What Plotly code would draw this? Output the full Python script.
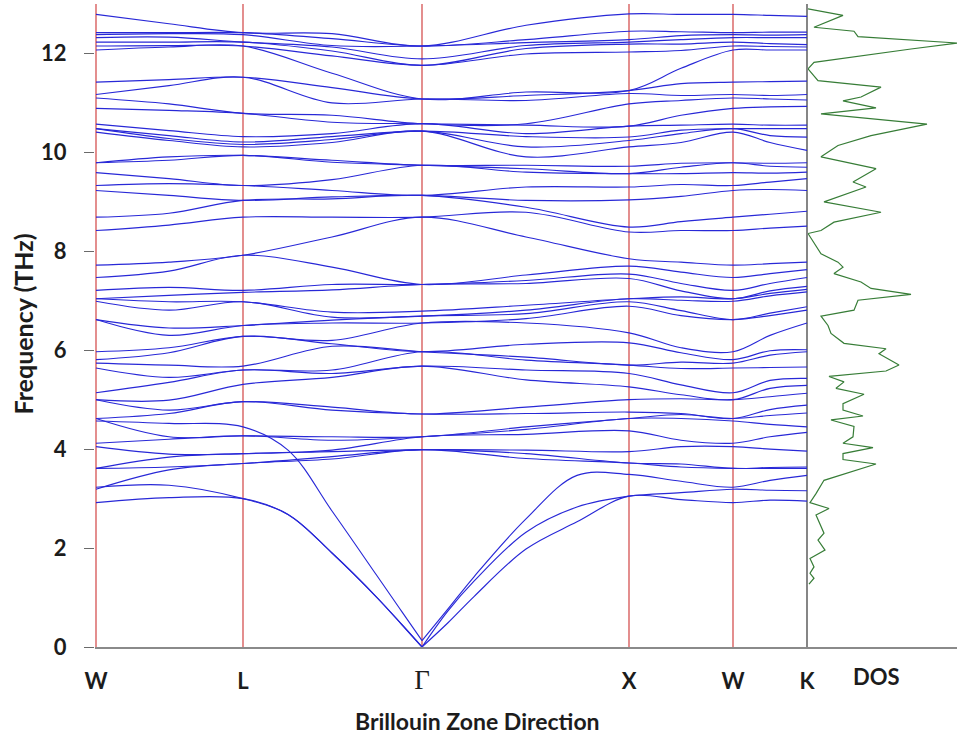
import plotly.graph_objects as go

# ---------------- k-path ----------------
kpos = [0, 147, 326, 533, 637, 711]
klabels = ["W", "L", "<span style='font-family:Liberation Serif;font-weight:normal;font-size:27px'>Γ</span>", "X", "W", "K"]

# sample positions along the path (high-symmetry points + mid points)
opt_x = [0, 73, 147, 236, 326, 430, 533, 585, 637, 674, 711]
ac_x = [0, 73, 147, 192, 236, 281, 306, 326, 352, 378, 430, 481, 533, 585, 637, 674, 711]

# ---------------- acoustic branches (THz) ----------------
ta1 = [2.92, 3.02, 3.00, 2.68, 1.90, 1.00, 0.45, 0.00, 0.49, 1.02, 1.98, 2.53, 3.05, 2.98, 2.92, 2.97, 2.95]
ta2 = [3.23, 3.27, 3.00, 2.68, 1.90, 1.00, 0.45, 0.00, 0.73, 1.33, 2.32, 2.83, 3.05, 3.12, 3.19, 3.17, 3.16]
la = [4.57, 4.52, 4.45, 3.98, 2.75, 1.44, 0.71, 0.13, 0.77, 1.42, 2.59, 3.47, 3.49, 3.35, 3.23, 3.37, 3.47]

# band around 8 THz (hump at Gamma)
hump = [7.72, 7.78, 7.92, 8.29, 8.69, 8.29, 7.85, 7.78, 7.72, 7.75, 7.78]

# ---------------- lower optical bands, value list at each sample point ----------------
low_W1 = [3.19, 3.61, 3.61, 4.05, 4.12, 4.62, 4.62, 5.00, 5.00, 5.14, 5.64, 5.74, 5.81, 5.97, 6.62, 6.62, 6.99, 7.04, 7.04, 7.21, 7.47]
low_WL = [3.58, 3.64, 3.84, 3.90, 4.20, 4.25, 4.72, 4.79, 4.99, 5.35, 5.45, 5.70, 5.95, 6.05, 6.30, 6.45, 6.81, 6.98, 7.11, 7.27, 7.60]
low_L = [3.71, 3.71, 3.91, 3.91, 4.27, 4.27, 4.96, 4.96, 5.31, 5.60, 5.60, 5.68, 6.28, 6.28, 6.50, 6.50, 6.98, 6.98, 7.17, 7.21, 7.92]
low_LG = [3.80, 3.85, 3.95, 3.98, 4.18, 4.25, 4.79, 4.85, 5.45, 5.53, 5.60, 6.08, 6.13, 6.20, 6.55, 6.61, 6.67, 6.77, 7.22, 7.33, 7.68]
low_G = [3.99, 3.99, 3.99, 4.25, 4.25, 4.25, 4.71, 4.71, 5.68, 5.68, 5.97, 5.97, 5.97, 6.55, 6.55, 6.69, 6.69, 6.79, 7.33, 7.33, 7.33]
low_GX = [3.81, 3.91, 3.98, 4.30, 4.40, 4.45, 4.72, 4.85, 5.40, 5.60, 5.80, 5.86, 6.12, 6.55, 6.64, 6.74, 6.81, 6.91, 7.35, 7.41, 7.52]
low_X = [3.72, 3.72, 3.95, 4.37, 4.62, 4.62, 4.75, 5.00, 5.26, 5.53, 5.70, 5.70, 6.15, 6.35, 6.89, 6.98, 7.04, 7.04, 7.45, 7.54, 7.70]
low_XW = [3.64, 3.70, 4.05, 4.18, 4.62, 4.70, 4.72, 5.02, 5.10, 5.30, 5.63, 5.76, 5.95, 6.05, 6.70, 6.80, 7.01, 7.08, 7.20, 7.35, 7.58]
low_W2 = [3.61, 3.61, 4.05, 4.12, 4.57, 4.62, 4.62, 5.00, 5.00, 5.14, 5.64, 5.74, 5.81, 5.97, 6.62, 6.62, 6.99, 7.04, 7.04, 7.21, 7.47]
low_WK = [3.61, 3.63, 4.00, 4.25, 4.50, 4.68, 4.80, 5.06, 5.23, 5.39, 5.65, 5.90, 5.99, 6.30, 6.70, 6.75, 7.10, 7.15, 7.20, 7.35, 7.55]
low_K = [3.61, 3.64, 3.96, 4.34, 4.45, 4.73, 4.89, 5.13, 5.29, 5.43, 5.66, 5.97, 6.01, 6.55, 6.81, 6.88, 7.18, 7.23, 7.29, 7.47, 7.63]

# ---------------- upper optical bands ----------------
high_W = [8.42, 8.69, 9.23, 9.33, 9.59, 9.79, 9.79, 10.41, 10.48, 10.48, 10.57, 10.89, 11.10, 11.17, 11.42, 12.07, 12.15, 12.23, 12.32, 12.38, 12.42, 12.79]
high_WL = [8.53, 8.77, 9.13, 9.37, 9.47, 9.84, 9.91, 10.24, 10.28, 10.34, 10.44, 10.85, 10.98, 11.35, 11.47, 12.13, 12.16, 12.23, 12.33, 12.40, 12.42, 12.60]
high_L = [8.69, 9.03, 9.03, 9.33, 9.33, 9.94, 9.94, 10.11, 10.16, 10.21, 10.32, 10.79, 10.79, 11.52, 11.52, 12.15, 12.15, 12.23, 12.23, 12.38, 12.42, 12.42]
high_LG = [8.69, 9.06, 9.10, 9.23, 9.45, 9.80, 9.84, 10.20, 10.26, 10.32, 10.38, 10.61, 10.75, 11.00, 11.31, 11.60, 11.95, 12.05, 12.13, 12.16, 12.30, 12.40]
high_G = [8.69, 9.13, 9.13, 9.13, 9.74, 9.74, 9.74, 10.43, 10.43, 10.43, 10.58, 10.58, 10.58, 11.08, 11.08, 11.08, 11.76, 11.76, 11.89, 12.15, 12.15, 12.15]
high_GX = [8.79, 8.89, 9.03, 9.30, 9.60, 9.67, 9.74, 9.91, 10.11, 10.32, 10.38, 10.55, 10.58, 11.05, 11.15, 11.22, 11.99, 12.10, 12.16, 12.22, 12.28, 12.57]
high_X = [8.39, 8.49, 9.04, 9.30, 9.57, 9.57, 9.72, 10.11, 10.24, 10.31, 10.53, 10.53, 10.98, 11.19, 11.25, 11.25, 12.03, 12.19, 12.23, 12.28, 12.45, 12.80]
high_XW = [8.42, 8.60, 9.11, 9.35, 9.57, 9.70, 9.78, 10.20, 10.38, 10.45, 10.55, 10.75, 11.05, 11.15, 11.39, 11.70, 12.06, 12.19, 12.28, 12.36, 12.44, 12.79]
high_WK = [8.47, 8.75, 9.25, 9.40, 9.58, 9.72, 9.78, 10.20, 10.34, 10.48, 10.55, 10.92, 11.08, 11.15, 11.43, 12.07, 12.14, 12.20, 12.32, 12.37, 12.43, 12.77]
high_K = [8.51, 8.81, 9.23, 9.47, 9.60, 9.70, 9.79, 10.04, 10.31, 10.48, 10.55, 10.93, 11.06, 11.17, 11.44, 12.07, 12.13, 12.18, 12.32, 12.38, 12.43, 12.75]

# ---------------- density of states ----------------
dos_freq = [12.90, 12.77, 12.53, 12.45, 12.34, 12.21, 12.09, 11.82, 11.69, 11.45, 11.32, 11.12, 11.04, 10.90, 10.78,
            10.57, 10.34, 10.14, 9.91, 9.67, 9.40, 9.30, 9.00, 8.79, 8.59, 8.42, 8.36, 8.16, 7.95, 7.78, 7.68, 7.55,
            7.38, 7.25, 7.13, 7.01, 6.81, 6.69, 6.50, 6.34, 6.14, 6.03, 5.93, 5.70, 5.58, 5.47, 5.36, 5.23, 5.11,
            4.92, 4.79, 4.67, 4.59, 4.46, 4.25, 4.12, 4.03, 3.91, 3.79, 3.70, 3.37, 3.10, 2.92, 2.80, 2.67, 2.30,
            2.16, 1.96, 1.79, 1.62, 1.49, 1.39, 1.27]
dos_val = [0, 35, 6, 46, 50, 150, 103, 6, 0, 10, 73, 53, 35, 68, 13,
           119, 63, 30, 13, 68, 45, 58, 16, 73, 26, 13, 0, 6, 13, 30, 35, 26,
           53, 63, 103, 50, 46, 13, 20, 23, 36, 78, 71, 91, 78, 21, 36, 28, 56,
           35, 35, 55, 23, 46, 45, 35, 65, 35, 35, 68, 16, 8, 2, 21, 8, 16,
           10, 17, 2, 6, 2, 6, 1]

low_cols = [low_W1, low_WL, low_L, low_LG, low_G, low_GX, low_X, low_XW, low_W2, low_WK, low_K]
high_cols = [high_W, high_WL, high_L, high_LG, high_G, high_GX, high_X, high_XW, high_W, high_WK, high_K]

BLUE = "rgb(40,40,215)"
FONT = "Lato"
TXT = "#1c1c1c"

fig = go.Figure()


def band_trace(xs, ys):
    return go.Scatter(x=xs, y=ys, mode="lines", xaxis="x", yaxis="y",
                      line=dict(color=BLUE, width=1.15, shape="spline", smoothing=1.0),
                      hoverinfo="skip", showlegend=False)


for band in zip(*low_cols):
    fig.add_trace(band_trace(opt_x, list(band)))
fig.add_trace(band_trace(opt_x, hump))
for band in zip(*high_cols):
    fig.add_trace(band_trace(opt_x, list(band)))

# acoustic branches: draw left and right of Gamma separately so the cusp stays sharp
i0 = ac_x.index(kpos[2])
for br in (ta1, ta2, la):
    fig.add_trace(band_trace(ac_x[:i0 + 1], br[:i0 + 1]))
    fig.add_trace(band_trace(ac_x[i0:], br[i0:]))

# DOS
fig.add_trace(go.Scatter(x=dos_val, y=dos_freq, mode="lines", xaxis="x2", yaxis="y",
                         line=dict(color="rgb(55,125,55)", width=1.2),
                         hoverinfo="skip", showlegend=False))

# vertical high-symmetry lines
shapes = []
for i, kx in enumerate(kpos):
    col = "#222222" if i == len(kpos) - 1 else "rgb(205,50,50)"
    shapes.append(dict(type="line", xref="x", yref="paper", x0=kx, x1=kx, y0=0, y1=1,
                       line=dict(color=col, width=1.1), layer="below"))

W_, H_ = 957, 740
ML, MR, MT, MB = 95, 0, 4, 93
pw = W_ - ML - MR
ph = H_ - MT - MB
split = (kpos[-1] + 2) / pw  # band panel: one px per path unit

fig.update_layout(
    width=W_, height=H_,
    autosize=False,
    margin=dict(l=ML, r=MR, t=MT, b=MB, pad=0, autoexpand=False),
    paper_bgcolor="white", plot_bgcolor="white",
    showlegend=False,
    shapes=shapes,
    xaxis=dict(domain=[0, split], range=[kpos[0] - 1, kpos[-1] + 1], automargin=False,
               tickmode="array", tickvals=kpos, ticktext=klabels,
               showgrid=False, zeroline=False, ticks="",
               showline=True, linecolor="#8a8a8a", linewidth=1.5,
               tickfont=dict(family=FONT, size=22, color=TXT, weight="bold"),
               ticklabelstandoff=14),
    xaxis2=dict(domain=[split, 1], range=[0, 149], anchor="y", automargin=False,
                showgrid=False, zeroline=False, showticklabels=False, ticks="",
                showline=True, linecolor="#8a8a8a", linewidth=1.5),
    yaxis=dict(range=[0, 13], tickmode="array", tickvals=[0, 2, 4, 6, 8, 10, 12], automargin=False,
               showgrid=False, zeroline=False, showline=False,
               ticks="outside", ticklen=10, tickcolor="#6a6a6a", tickwidth=1,
               tickfont=dict(family=FONT, size=22, color=TXT, weight="bold"),
               ticklabelstandoff=13),
    annotations=[
        dict(text="Brillouin Zone Direction", xref="paper", yref="paper",
             x=(477 - ML) / pw, y=-(721 - (MT + ph)) / ph, xanchor="center", yanchor="middle",
             showarrow=False, font=dict(family=FONT, size=23, color=TXT, weight="bold")),
        dict(text="DOS", xref="paper", yref="paper",
             x=(876 - ML) / pw, y=-(677 - (MT + ph)) / ph, xanchor="center", yanchor="middle",
             showarrow=False, font=dict(family=FONT, size=22, color=TXT, weight="bold")),
        dict(text="Frequency (THz)", xref="paper", yref="paper", textangle=-90,
             x=(22 - ML) / pw, y=(MT + ph - 324.5) / ph, xanchor="center", yanchor="middle",
             showarrow=False, font=dict(family=FONT, size=25, color=TXT, weight="bold")),
    ],
)

fig.write_html("out.html", config={"responsive": False})
